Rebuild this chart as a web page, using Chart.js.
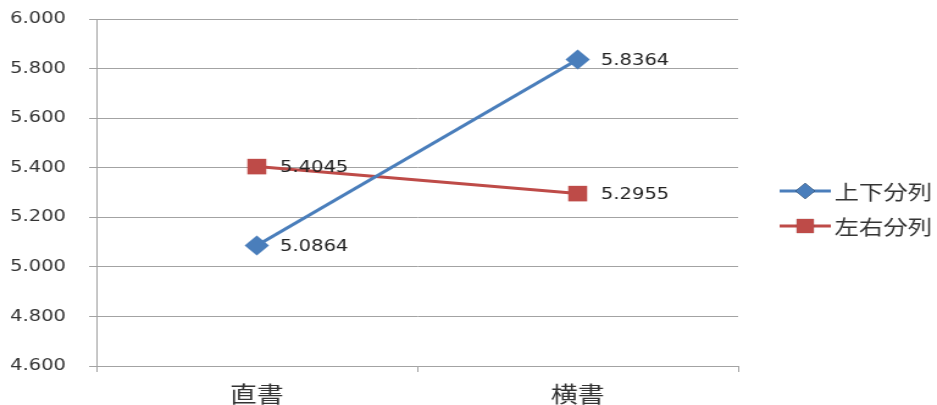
<!DOCTYPE html>
<html>
<head>
<meta charset="utf-8">
<script src="https://cdn.jsdelivr.net/npm/chart.js@4"></script>
<style>
  html, body { margin: 0; padding: 0; background: #fff; overflow: hidden; }
  #wrap { width: 768px; height: 405px; transform: scaleX(1.22); transform-origin: 0 0; }
</style>
</head>
<body>
<div id="wrap"><canvas id="c"></canvas></div>
<script>
const categories = ['直書', '横書'];
const seriesNames = ['上下分列', '左右分列'];
const upDownValues = [5.0864, 5.8364];
const leftRightValues = [5.4045, 5.2955];
const yMin = 4.6;
const yMax = 6.0;
const yStep = 0.2;

const BLUE = '#4A7EBB';
const RED = '#BE4B48';
const GRID = '#A3A3A3';
const TEXT = '#333333';

// Value labels to the right of each point
const valueLabels = {
  id: 'valueLabels',
  afterDatasetsDraw(chart) {
    const ctx = chart.ctx;
    ctx.save();
    ctx.font = '16px "DejaVu Sans"';
    ctx.fillStyle = '#222';
    ctx.textAlign = 'left';
    ctx.textBaseline = 'middle';
    chart.data.datasets.forEach((ds, i) => {
      chart.getDatasetMeta(i).data.forEach((pt, j) => {
        ctx.fillText(ds.data[j].toFixed(4), pt.x + 19, pt.y + 1);
      });
    });
    ctx.restore();
  }
};

// Legend on the right: line with marker, then series name
const sideLegend = {
  id: 'sideLegend',
  afterDraw(chart) {
    const ctx = chart.ctx;
    const x0 = 639, x1 = 681, yStart = 191, gap = 35;
    ctx.save();
    chart.data.datasets.forEach((ds, i) => {
      const y = yStart + i * gap;
      ctx.strokeStyle = ds.borderColor;
      ctx.lineWidth = 3;
      ctx.beginPath();
      ctx.moveTo(x0, y);
      ctx.lineTo(x1, y);
      ctx.stroke();
      Chart.helpers.drawPoint(ctx, {
        pointStyle: ds.pointStyle,
        radius: ds.pointStyle === 'rect' ? 10 : 8,
        borderWidth: 0
      }, (x0 + x1) / 2, y);
      ctx.fillStyle = ds.borderColor;
      ctx.fill();
      ctx.fillStyle = TEXT;
      ctx.font = '20px "Noto Sans CJK JP"';
      ctx.textAlign = 'left';
      ctx.textBaseline = 'middle';
      ctx.fillText(ds.label, x1 + 3, y + 1);
    });
    ctx.restore();
  }
};

new Chart(document.getElementById('c'), {
  type: 'line',
  data: {
    labels: categories,
    datasets: [
      {
        label: seriesNames[0],
        data: upDownValues,
        borderColor: BLUE,
        backgroundColor: BLUE,
        pointBackgroundColor: BLUE,
        pointBorderColor: BLUE,
        pointStyle: 'rectRot',
        pointRadius: 10,
        pointBorderWidth: 0,
        borderWidth: 3,
        tension: 0
      },
      {
        label: seriesNames[1],
        data: leftRightValues,
        borderColor: RED,
        backgroundColor: RED,
        pointBackgroundColor: RED,
        pointBorderColor: RED,
        pointStyle: 'rect',
        pointRadius: 11,
        pointBorderWidth: 0,
        borderWidth: 3,
        tension: 0
      }
    ]
  },
  options: {
    responsive: true,
    maintainAspectRatio: false,
    animation: false,
    events: [],
    layout: { padding: { top: 19, right: 163, bottom: 0, left: 0 } },
    plugins: {
      legend: { display: false },
      tooltip: { enabled: false },
      title: { display: false }
    },
    scales: {
      x: {
        type: 'category',
        offset: true,
        afterFit(scale) { scale.height = 39; },
        grid: {
          offset: true,
          drawOnChartArea: false,
          drawTicks: true,
          tickLength: 6,
          color: GRID
        },
        border: { display: true, color: GRID, width: 1 },
        ticks: {
          color: TEXT,
          padding: 8,
          font: { family: '"Noto Sans CJK JP"', size: 22 }
        }
      },
      y: {
        min: yMin,
        max: yMax,
        afterFit(scale) {
          scale.width = 79;
          scale.paddingTop = 0;
          scale.paddingBottom = 0;
        },
        afterBuildTicks(scale) {
          const ticks = [];
          for (let i = 0; yMin + i * yStep <= yMax + 1e-9; i++) {
            ticks.push({ value: +(yMin + i * yStep).toFixed(3) });
          }
          scale.ticks = ticks;
        },
        grid: {
          color: GRID,
          lineWidth: 1,
          drawTicks: true,
          tickLength: 6
        },
        border: { display: true, color: GRID, width: 1 },
        ticks: {
          color: TEXT,
          padding: 19,
          font: { family: '"DejaVu Sans"', size: 16 },
          callback: (v) => Number(v).toFixed(3)
        }
      }
    }
  },
  plugins: [valueLabels, sideLegend]
});
</script>
</body>
</html>
